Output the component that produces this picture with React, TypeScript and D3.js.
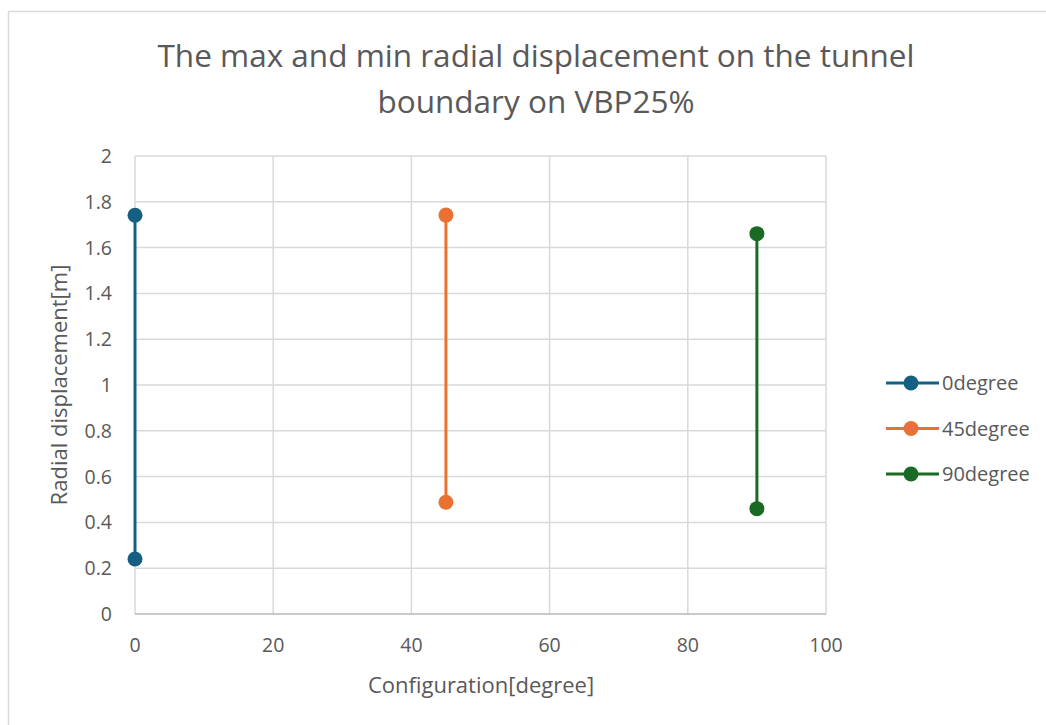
import React from "react";
import * as d3 from "d3";

const seriesNames = ["0degree", "45degree", "90degree"];
const seriesX = [0, 45, 90];
const seriesMax = [1.741, 1.742, 1.661];
const seriesMin = [0.24, 0.488, 0.46];
const seriesColors = ["#156082", "#E97132", "#196B24"];
const xTicks = [0, 20, 40, 60, 80, 100];
const yTicks = [0, 0.2, 0.4, 0.6, 0.8, 1, 1.2, 1.4, 1.6, 1.8, 2];
const titleLines = ["The max and min radial displacement on the tunnel", "boundary on VBP25%"];
const xTitle = "Configuration[degree]";
const yTitle = "Radial displacement[m]";

const W = 1046;
const H = 725;
const plot = { left: 135, right: 826, top: 156, bottom: 614 };
const FONT = "'Open Sans', 'Noto Sans', sans-serif";
const TEXT = "#595959";
const GRID = "#d9d9d9";

export default function App() {
  const x = d3.scaleLinear().domain([0, 100]).range([plot.left, plot.right]);
  const y = d3.scaleLinear().domain([0, 2]).range([plot.bottom, plot.top]);
  const line = d3
    .line<[number, number]>()
    .x((d) => x(d[0]))
    .y((d) => y(d[1]));

  return (
    <svg
      width={W}
      height={H}
      style={{ position: "absolute", left: 0, top: 0, background: "#fff" }}
      fontFamily={FONT}
    >
      <rect x={8.5} y={11.5} width={W + 10} height={H + 10} fill="#fff" stroke={GRID} strokeWidth={1.5} />
      {titleLines.map((t, i) => (
        <text key={i} x={536} y={67 + i * 46} textAnchor="middle" fontSize={31.5} fill={TEXT}>
          {t}
        </text>
      ))}
      {yTicks.map((t) => (
        <line key={"gy" + t} x1={plot.left} x2={plot.right} y1={y(t)} y2={y(t)} stroke={GRID} strokeWidth={1.5} />
      ))}
      {xTicks.map((t) => (
        <line key={"gx" + t} x1={x(t)} x2={x(t)} y1={plot.top} y2={plot.bottom} stroke={GRID} strokeWidth={1.5} />
      ))}
      <line x1={plot.left} x2={plot.right} y1={plot.bottom} y2={plot.bottom} stroke="#bfbfbf" strokeWidth={1.5} />
      {yTicks.map((t) => (
        <text key={"ty" + t} x={112} y={y(t) + 7} textAnchor="end" fontSize={19.5} fill={TEXT}>
          {d3.format("~g")(t)}
        </text>
      ))}
      {xTicks.map((t) => (
        <text key={"tx" + t} x={x(t)} y={652} textAnchor="middle" fontSize={19.5} fill={TEXT}>
          {t}
        </text>
      ))}
      <text x={481} y={693} textAnchor="middle" fontSize={22} fill={TEXT}>
        {xTitle}
      </text>
      <text
        transform={`translate(67, ${(plot.top + plot.bottom) / 2}) rotate(-90)`}
        textAnchor="middle"
        fontSize={22}
        fill={TEXT}
      >
        {yTitle}
      </text>
      {seriesNames.map((name, i) => {
        const pts: [number, number][] = [
          [seriesX[i], seriesMin[i]],
          [seriesX[i], seriesMax[i]],
        ];
        return (
          <g key={name}>
            <path d={line(pts) || ""} stroke={seriesColors[i]} strokeWidth={3} fill="none" />
            {pts.map((p, j) => (
              <circle key={j} cx={x(p[0])} cy={y(p[1])} r={7.5} fill={seriesColors[i]} />
            ))}
          </g>
        );
      })}
      {seriesNames.map((name, i) => {
        const ly = 383 + i * 45.5;
        return (
          <g key={"lg" + name}>
            <line x1={886} x2={939} y1={ly} y2={ly} stroke={seriesColors[i]} strokeWidth={3} />
            <circle cx={911} cy={ly} r={7.5} fill={seriesColors[i]} />
            <text x={942} y={ly + 7} fontSize={20} fill={TEXT}>
              {name}
            </text>
          </g>
        );
      })}
    </svg>
  );
}
